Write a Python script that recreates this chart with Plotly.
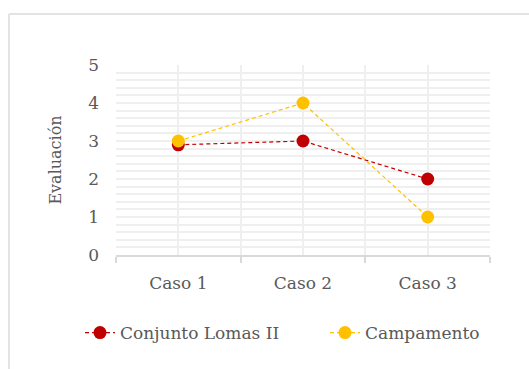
import plotly.graph_objects as go

# Chart data
categories = ["Caso 1", "Caso 2", "Caso 3"]
lomas_ii = [2.9, 3.0, 2.0]
campamento = [3.0, 4.0, 1.0]
series_names = ["Conjunto Lomas II", "Campamento"]
y_title = "Evaluación"

RED = "#C00000"
YELLOW = "#FFC000"
TEXT = "#595959"
GRID = "#EFEFEF"
FONT = "DejaVu Serif"

W, H = 529, 369
L, R, T, B = 116, 39, 65, 114
plot_w = W - L - R
plot_h = H - T - B

x_pos = list(range(len(categories)))

fig = go.Figure()
fig.add_trace(go.Scatter(
    x=x_pos, y=lomas_ii, name=series_names[0], mode="lines+markers",
    line=dict(color=RED, width=1.2, dash="4px,3px"),
    marker=dict(color=RED, size=13),
))
fig.add_trace(go.Scatter(
    x=x_pos, y=campamento, name=series_names[1], mode="lines+markers",
    line=dict(color=YELLOW, width=1.2, dash="4px,3px"),
    marker=dict(color=YELLOW, size=13),
))

# light frame around the chart (left and top edges visible)
px = lambda p: (p - L) / plot_w
py = lambda p: (H - B - p) / plot_h
frame = dict(type="line", xref="paper", yref="paper",
             line=dict(color="#E3E3E3", width=2), layer="below")
fig.add_shape(x0=px(9), x1=px(W + 5), y0=py(14), y1=py(14), **frame)
fig.add_shape(x0=px(9), x1=px(9), y0=py(14), y1=py(H + 5), **frame)

fig.update_layout(
    width=W, height=H,
    margin=dict(l=L, r=R, t=T, b=B, autoexpand=False),
    paper_bgcolor="white", plot_bgcolor="white",
    font=dict(family=FONT, color=TEXT, size=16),
    showlegend=True,
    legend=dict(
        orientation="h",
        x=px(80), xanchor="left", y=py(333), yanchor="middle",
        font=dict(family=FONT, color=TEXT, size=17),
        traceorder="normal", entrywidth=200,
    ),
    xaxis=dict(
        range=[-0.5, 2.5], tickvals=x_pos, ticktext=categories,
        showgrid=True, gridcolor=GRID, gridwidth=2,
        ticks="", showline=True, linecolor="#D9D9D9", linewidth=2,
        tickfont=dict(size=17), ticklabelstandoff=12,
        zeroline=False,
        minor=dict(tick0=0.5, dtick=1, showgrid=True, gridcolor=GRID,
                   gridwidth=2, ticks="outside", ticklen=6,
                   tickcolor="#D9D9D9", tickwidth=2),
    ),
    yaxis=dict(
        range=[0, 5], dtick=1, showgrid=True, gridcolor=GRID, gridwidth=2,
        zeroline=False, showline=False, ticks="",
        tickfont=dict(size=17), ticklabelstandoff=16,
        title=dict(text=y_title, font=dict(size=16), standoff=22),
        minor=dict(dtick=0.2, showgrid=True, gridcolor=GRID, gridwidth=2),
    ),
)

fig.write_html("out.html")
